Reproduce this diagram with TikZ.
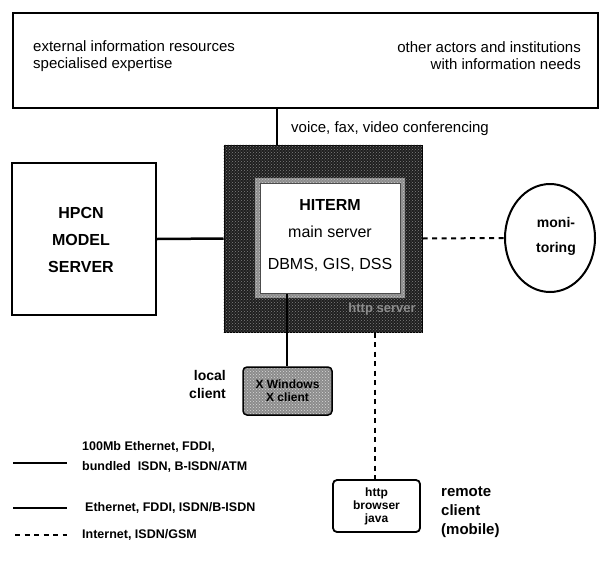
\documentclass[tikz,border=0pt]{standalone}
\usepackage{fontspec}
\setmainfont{Liberation Sans}
\usetikzlibrary{patterns,shapes.geometric}
\begin{document}
\begin{tikzpicture}[x=1pt,y=-1pt,
  thinline/.style={line width=1.3pt},
  midline/.style={line width=1.7pt},
  thickline/.style={line width=2.5pt},
  dashline/.style={line width=2pt, dash pattern=on 5pt off 4.5pt},
  boxline/.style={draw, line width=2pt, inner sep=0pt},
  reg/.style={font=\fontsize{15}{17}\selectfont, inner sep=0pt},
  bigbold/.style={font=\bfseries\fontsize{16}{27}\selectfont, inner sep=0pt},
  lbl/.style={font=\bfseries\fontsize{14}{18}\selectfont, inner sep=0pt},
  leg/.style={font=\bfseries\fontsize{12.5}{20}\selectfont, inner sep=0pt},
  smallbold/.style={font=\bfseries\fontsize{12}{13}\selectfont, inner sep=0pt}
]
\useasboundingbox (0,0) rectangle (601,562);

% top box
\node[boxline, minimum width=585, minimum height=95] (top) at (305.5,60.5) {};
\node[reg, anchor=west, align=left] (ext) at (33,56) {external information resources\\specialised expertise};
\node[reg, anchor=east, align=right] (oth) at (581,56) {other actors and institutions\\with information needs};

% main server
\node[draw=black, line width=1pt, fill=black!88, minimum width=198, minimum height=187, inner sep=0pt] (srv) at (323,238.5) {};
\fill[pattern=crosshatch dots, pattern color=black!50] (srv.south west) rectangle (srv.north east);
\node[fill=black!45, minimum width=150, minimum height=120, inner sep=0pt] (band) at (330,238) {};
\fill[pattern=crosshatch dots, pattern color=black!20] (band.south west) rectangle (band.north east);
\node[draw=black!70, line width=1pt, fill=white, minimum width=140, minimum height=110, inner sep=0pt] (inner) at (330,238) {};
\node[bigbold] (hit) at (330,205) {HITERM};
\node[font=\fontsize{16}{19}\selectfont, inner sep=0pt] (mains) at (330,232) {main server};
\node[font=\fontsize{16}{19}\selectfont, inner sep=0pt] (dbms) at (330,265) {DBMS, GIS, DSS};
\node[font=\bfseries\fontsize{13}{15}\selectfont, text=black!45, inner sep=0pt] (https) at (382,309) {http server};

% connection to top box
\coordinate (vx) at (277,0);
\draw[thinline] (top.south -| vx) -- (srv.north -| vx);
\node[reg, anchor=west] (voice) at (291,129) {voice, fax, video conferencing};

% HPCN model server
\node[boxline, minimum width=144, minimum height=152] (hpcn) at (84,239) {};
\node[bigbold, align=center] (hpcnt) at (81,240) {HPCN\\MODEL\\SERVER};
\draw[thickline] (hpcn.east) -- (srv.west);

% monitoring
\node[draw, ellipse, line width=2pt, minimum width=90, minimum height=108, inner sep=0pt] (mon) at (550,238) {};
\node[font=\bfseries\fontsize{14}{25}\selectfont, inner sep=0pt, align=center] (mont) at (556,236) {moni-\\toring};
\draw[dashline] (srv.east) -- (mon.west);

% local client
\node[draw, line width=1.5pt, rounded corners=4pt, fill=black!45, minimum width=89, minimum height=48, inner sep=0pt] (loc) at (287.5,391) {};
\fill[pattern=crosshatch dots, pattern color=black!15, rounded corners=4pt] ([shift={(2,-2)}]loc.south west) rectangle ([shift={(-2,2)}]loc.north east);
\node[smallbold, align=center] (loct) at (287.5,391) {X Windows\\X client};
\coordinate (lx) at (287,0);
\draw[thinline] (inner.south -| lx) -- (loc.north -| lx);
\node[lbl, anchor=east, align=right] (locl) at (226,384) {local\\client};

% remote client
\node[draw, line width=1.8pt, rounded corners=4pt, fill=white, minimum width=87, minimum height=52, inner sep=0pt, align=center, font=\bfseries\fontsize{12}{13}\selectfont] (http) at (376.5,506) {http\\browser\\java};
\coordinate (hx) at (375,0);
\draw[dashline, line width=1.8pt] (srv.south -| hx) -- (http.north -| hx);
\node[font=\bfseries\fontsize{15}{19}\selectfont, inner sep=0pt, anchor=west, align=left] (rem) at (441,512) {remote\\client\\(mobile)};

% legend
\coordinate (l1a) at (13,463);
\coordinate (l1b) at (67,463);
\draw[thickline] (l1a) -- (l1b);
\node[leg, anchor=west, align=left] (l1t) at (82,457) {100Mb Ethernet, FDDI,\\bundled\ \ ISDN, B-ISDN/ATM};
\coordinate (l2a) at (13,508);
\coordinate (l2b) at (67,508);
\draw[midline] (l2a) -- (l2b);
\node[leg, anchor=west] (l2t) at (85,508) {Ethernet, FDDI, ISDN/B-ISDN};
\coordinate (l3a) at (15,535);
\coordinate (l3b) at (67,535);
\draw[dashline] (l3a) -- (l3b);
\node[leg, anchor=west] (l3t) at (82,535) {Internet, ISDN/GSM};
\end{tikzpicture}
\end{document}
